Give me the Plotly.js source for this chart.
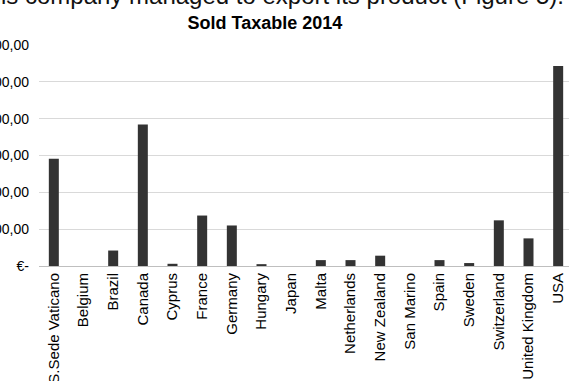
<!DOCTYPE html>
<html>
<head>
<meta charset="utf-8">
<script src="https://cdn.plot.ly/plotly-3.0.1.min.js"></script>
<style>
html, body { margin: 0; padding: 0; overflow: hidden; background: #fff; }
#chart { width: 573px; height: 381px; }
</style>
</head>
<body>
<div id="chart"></div>
<script>
const countries = ["S.Sede Vaticano", "Belgium", "Brazil", "Canada", "Cyprus", "France", "Germany", "Hungary", "Japan", "Malta", "Netherlands", "New Zealand", "San Marino", "Spain", "Sweden", "Switzerland", "United Kingdom", "USA"];
const soldTaxable = [291000, 0, 42000, 384000, 6000, 137000, 110000, 5000, 0, 16000, 16000, 28000, 0, 16000, 8000, 124000, 75000, 543000];
const yTickValues = [0, 100000, 200000, 300000, 400000, 500000, 600000];
const yTickLabels = ["€-", "€ 100.000,00", "€ 200.000,00", "€ 300.000,00", "€ 400.000,00", "€ 500.000,00", "€ 600.000,00"];
const chartTitle = "Sold Taxable 2014";
const bodyText = "This company managed to export its product (Figure 5).";

const FONT = "Arial, 'Liberation Sans', sans-serif";

Plotly.newPlot("chart", [{
  type: "bar",
  x: countries,
  y: soldTaxable,
  marker: { color: "#333333" },
  hoverinfo: "skip"
}], {
  width: 573,
  height: 381,
  margin: { l: 39, r: 0, t: 45, b: 115, pad: 0 },
  paper_bgcolor: "#ffffff",
  plot_bgcolor: "#ffffff",
  bargap: 0.663,
  showlegend: false,
  font: { family: FONT, color: "#000000" },
  title: {
    text: "<b>" + chartTitle + "</b>",
    font: { family: FONT, size: 18, color: "#000000" },
    xref: "paper", x: 0.423, xanchor: "center",
    yref: "container", y: 1 - 22.5 / 381, yanchor: "middle"
  },
  xaxis: {
    type: "category",
    range: [-0.5, countries.length - 0.5],
    tickangle: -90,
    tickfont: { family: FONT, size: 15, color: "#000000" },
    showgrid: false,
    showline: true,
    linecolor: "#bfbfbf",
    linewidth: 1,
    ticks: "",
    automargin: false,
    fixedrange: true
  },
  yaxis: {
    range: [0, 600000],
    tickvals: yTickValues,
    ticktext: yTickLabels,
    tickfont: { family: FONT, size: 14, color: "#000000" },
    showgrid: true,
    gridcolor: "#d9d9d9",
    gridwidth: 1,
    zeroline: false,
    showline: false,
    ticks: "",
    ticklabelstandoff: 9,
    automargin: false,
    fixedrange: true
  },
  annotations: [{
    text: bodyText,
    xref: "paper", yref: "paper",
    x: (566 - 39) / 534, xanchor: "right",
    y: (266 + 4) / 221, yanchor: "middle",
    showarrow: false,
    font: { family: FONT, size: 24, color: "#111111" }
  }]
}, { staticPlot: true, displayModeBar: false });
</script>
</body>
</html>
